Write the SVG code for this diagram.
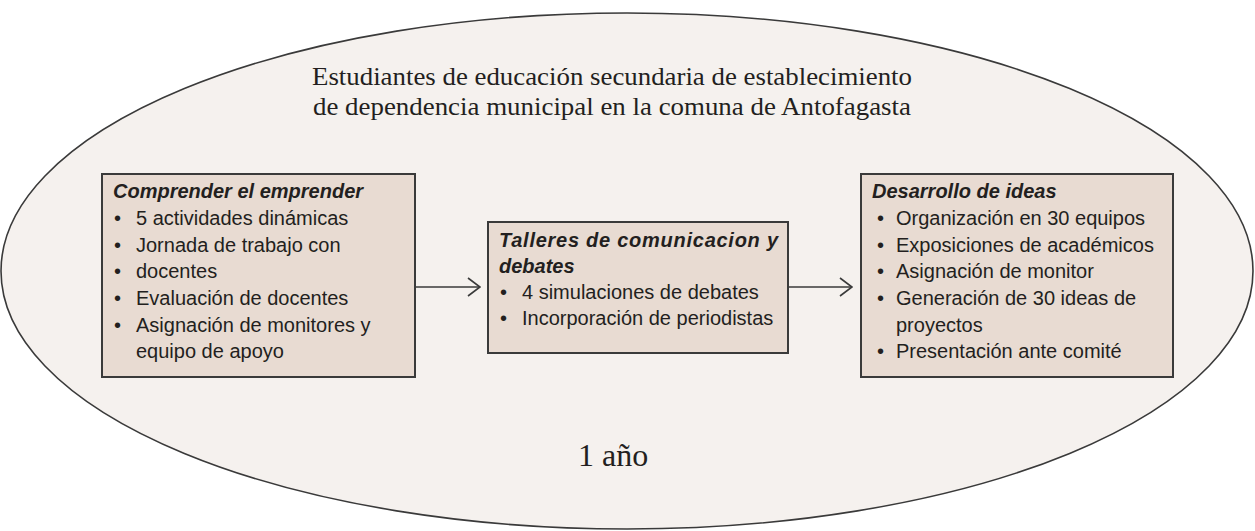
<svg xmlns="http://www.w3.org/2000/svg" width="1255" height="531" viewBox="0 0 1255 531">
<defs>
<style>
.box{fill:#e8dbd2;stroke:#3a3a3a;stroke-width:2}
.t{font-family:"Liberation Sans","Open Sans",sans-serif;font-size:20px;fill:#231f20}
.h{font-family:"Liberation Sans","Open Sans",sans-serif;font-size:20px;font-weight:bold;font-style:italic;fill:#231f20}
.serif{font-family:"Liberation Serif","Times New Roman",serif;fill:#231f20}
.conn{stroke:#3a3a3a;stroke-width:1.6;fill:none}
</style>
<marker id="arr" viewBox="0 0 14 20" refX="13" refY="10" markerWidth="14" markerHeight="20" markerUnits="userSpaceOnUse" orient="auto">
<path d="M1 1 L13 10 L1 19" fill="none" stroke="#3a3a3a" stroke-width="1.6"/>
</marker>
</defs>
<rect width="1255" height="531" fill="#ffffff"/>
<g id="ellipse">
<ellipse cx="627" cy="271" rx="626" ry="258" fill="#f5f1ee" stroke="#3a3a3a" stroke-width="1.6"/>
<text class="serif" font-size="26" text-anchor="middle" x="612" y="85" textLength="600" lengthAdjust="spacingAndGlyphs">Estudiantes de educación secundaria de establecimiento</text>
<text class="serif" font-size="26" text-anchor="middle" x="612" y="115" textLength="598" lengthAdjust="spacingAndGlyphs">de dependencia municipal en la comuna de Antofagasta</text>
<text class="serif" font-size="32" x="578" y="466">1 año</text>
</g>
<g id="connectors">
<line class="conn" x1="415" y1="287" x2="480" y2="287" marker-end="url(#arr)"/>
<line class="conn" x1="788" y1="287" x2="852" y2="287" marker-end="url(#arr)"/>
</g>
<g id="node1">
<rect class="box" x="102" y="174" width="313" height="203"/>
<text class="h" x="113" y="198">Comprender el emprender</text>
<text class="t" x="114" y="225">•</text><text class="t" x="136" y="225">5 actividades dinámicas</text>
<text class="t" x="114" y="251.5">•</text><text class="t" x="136" y="251.5">Jornada de trabajo con</text>
<text class="t" x="114" y="278">•</text><text class="t" x="136" y="278">docentes</text>
<text class="t" x="114" y="305">•</text><text class="t" x="136" y="305">Evaluación de docentes</text>
<text class="t" x="114" y="331.5">•</text><text class="t" x="136" y="331.5">Asignación de monitores y</text>
<text class="t" x="136" y="358">equipo de apoyo</text>
</g>
<g id="node2">
<rect class="box" x="488" y="222" width="300" height="131"/>
<text class="h" x="499" y="247" textLength="279" lengthAdjust="spacing">Talleres de comunicacion y</text>
<text class="h" x="499" y="273">debates</text>
<text class="t" x="500" y="299">•</text><text class="t" x="522" y="299">4 simulaciones de debates</text>
<text class="t" x="500" y="325">•</text><text class="t" x="522" y="325">Incorporación de periodistas</text>
</g>
<g id="node3">
<rect class="box" x="861" y="174" width="312" height="203"/>
<text class="h" x="872" y="198">Desarrollo de ideas</text>
<text class="t" x="877" y="225">•</text><text class="t" x="896" y="225">Organización en 30 equipos</text>
<text class="t" x="877" y="251.5">•</text><text class="t" x="896" y="251.5">Exposiciones de académicos</text>
<text class="t" x="877" y="278">•</text><text class="t" x="896" y="278">Asignación de monitor</text>
<text class="t" x="877" y="305">•</text><text class="t" x="896" y="305">Generación de 30 ideas de</text>
<text class="t" x="896" y="331.5">proyectos</text>
<text class="t" x="877" y="358">•</text><text class="t" x="896" y="358">Presentación ante comité</text>
</g>
</svg>
